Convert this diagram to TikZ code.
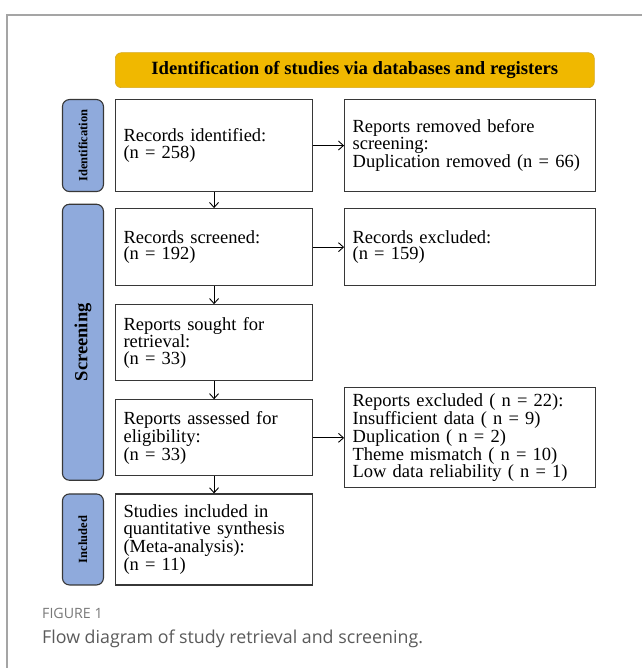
\documentclass[tikz,border=0pt]{standalone}
\usepackage{fontspec}
\setmainfont{Liberation Serif}
\newfontfamily\capfont{Open Sans}
\usetikzlibrary{arrows.meta,positioning,calc}
\definecolor{bannergold}{RGB}{240,184,0}
\definecolor{bannerline}{RGB}{215,168,30}
\definecolor{sideblue}{RGB}{143,170,220}
\definecolor{boxline}{RGB}{55,55,55}
\definecolor{framegray}{RGB}{165,165,165}
\definecolor{figgray}{RGB}{120,120,120}
\definecolor{capgray}{RGB}{90,90,90}
\newcommand{\sidetextfont}{\fontsize{12.5}{14}\selectfont\bfseries}

\begin{document}
\begin{tikzpicture}[
    x=1pt, y=-1pt,
    every node/.style={font=\fontsize{18.5}{16.7}\selectfont},
    box/.style={draw=boxline, line width=1.1pt, inner xsep=8pt, inner ysep=0pt, align=left},
    leftbox/.style={box, text width=181pt},
    rightbox/.style={box, text width=235pt},
    sidebar/.style={draw=boxline, line width=1.1pt, fill=sideblue, rounded corners=7pt, minimum width=41pt, inner sep=0pt},
    flow/.style={-{Straight Barb[length=5pt,width=9pt]}, line width=0.9pt}
  ]
    \useasboundingbox (0,0) rectangle (642,668);
    \draw[framegray, line width=1.5pt] (7,668) -- (7,15) -- (642,15);

    % main column
    \node[leftbox, minimum height=92pt, anchor=north west] (ident) at (115,99) {Records identified:\\(n = 258)};
    \node[leftbox, minimum height=77pt, below=16pt of ident] (screened) {Records screened:\\(n = 192)};
    \node[leftbox, minimum height=76pt, below=18pt of screened] (sought) {Reports sought for\\retrieval:\\(n = 33)};
    \node[leftbox, minimum height=76pt, below=18pt of sought] (assessed) {Reports assessed for\\eligibility:\\(n = 33)};
    \node[leftbox, minimum height=91pt, below=17pt of assessed] (included) {Studies included in\\quantitative synthesis\\(Meta-analysis):\\(n = 11)};

    % side column
    \node[rightbox, minimum height=92pt, right=31pt of ident] (removed) {Reports removed before\\screening:\\Duplication removed (n = 66)};
    \node[rightbox, minimum height=77pt, right=31pt of screened] (recexcl) {Records excluded:\\(n = 159)};
    \node[rightbox, minimum height=100pt, right=31pt of assessed] (repexcl) {Reports excluded ( n = 22):\\Insufficient data ( n = 9)\\Duplication ( n = 2)\\Theme mismatch ( n = 10)\\Low data reliability ( n = 1)};

    % header
    \node[draw=bannerline, line width=0.6pt, fill=bannergold, rounded corners=6pt, minimum width=479pt, minimum height=35pt,
          font=\fontsize{18.7}{20}\selectfont\bfseries, above=11pt of ident.north west, anchor=south west] (head)
          {Identification of studies via databases and registers};

    % stage bars
    \node[sidebar, minimum height=92pt, left=11pt of ident] (idbar) {\rotatebox{90}{\sidetextfont Identification}};
    \coordinate (scrmid) at ($(screened.north west)!0.5!(assessed.south west)$);
    \node[sidebar, minimum height=276pt, left=11pt of scrmid] (scrbar) {\rotatebox{90}{\fontsize{18.5}{20}\selectfont\bfseries Screening}};
    \node[sidebar, minimum height=91pt, left=11pt of included] (incbar) {\rotatebox{90}{\sidetextfont Included}};

    \draw[flow] (ident) -- (removed);
    \draw[flow] (ident) -- (screened);
    \draw[flow] (screened) -- (recexcl);
    \draw[flow] (screened) -- (sought);
    \draw[flow] (sought) -- (assessed);
    \draw[flow] (assessed) -- (repexcl);
    \draw[flow] (assessed) -- (included);

    % caption
    \node[anchor=base west, inner sep=0pt, text=figgray, font=\capfont\fontsize{14.2}{16}\selectfont] (figlabel) at (42,618) {FIGURE 1};
    \node[anchor=base west, inner sep=0pt, text=capgray, font=\capfont\fontsize{17.8}{20}\selectfont] (caption) at (42,643) {Flow diagram of study retrieval and screening.};
  \end{tikzpicture}
\end{document}
